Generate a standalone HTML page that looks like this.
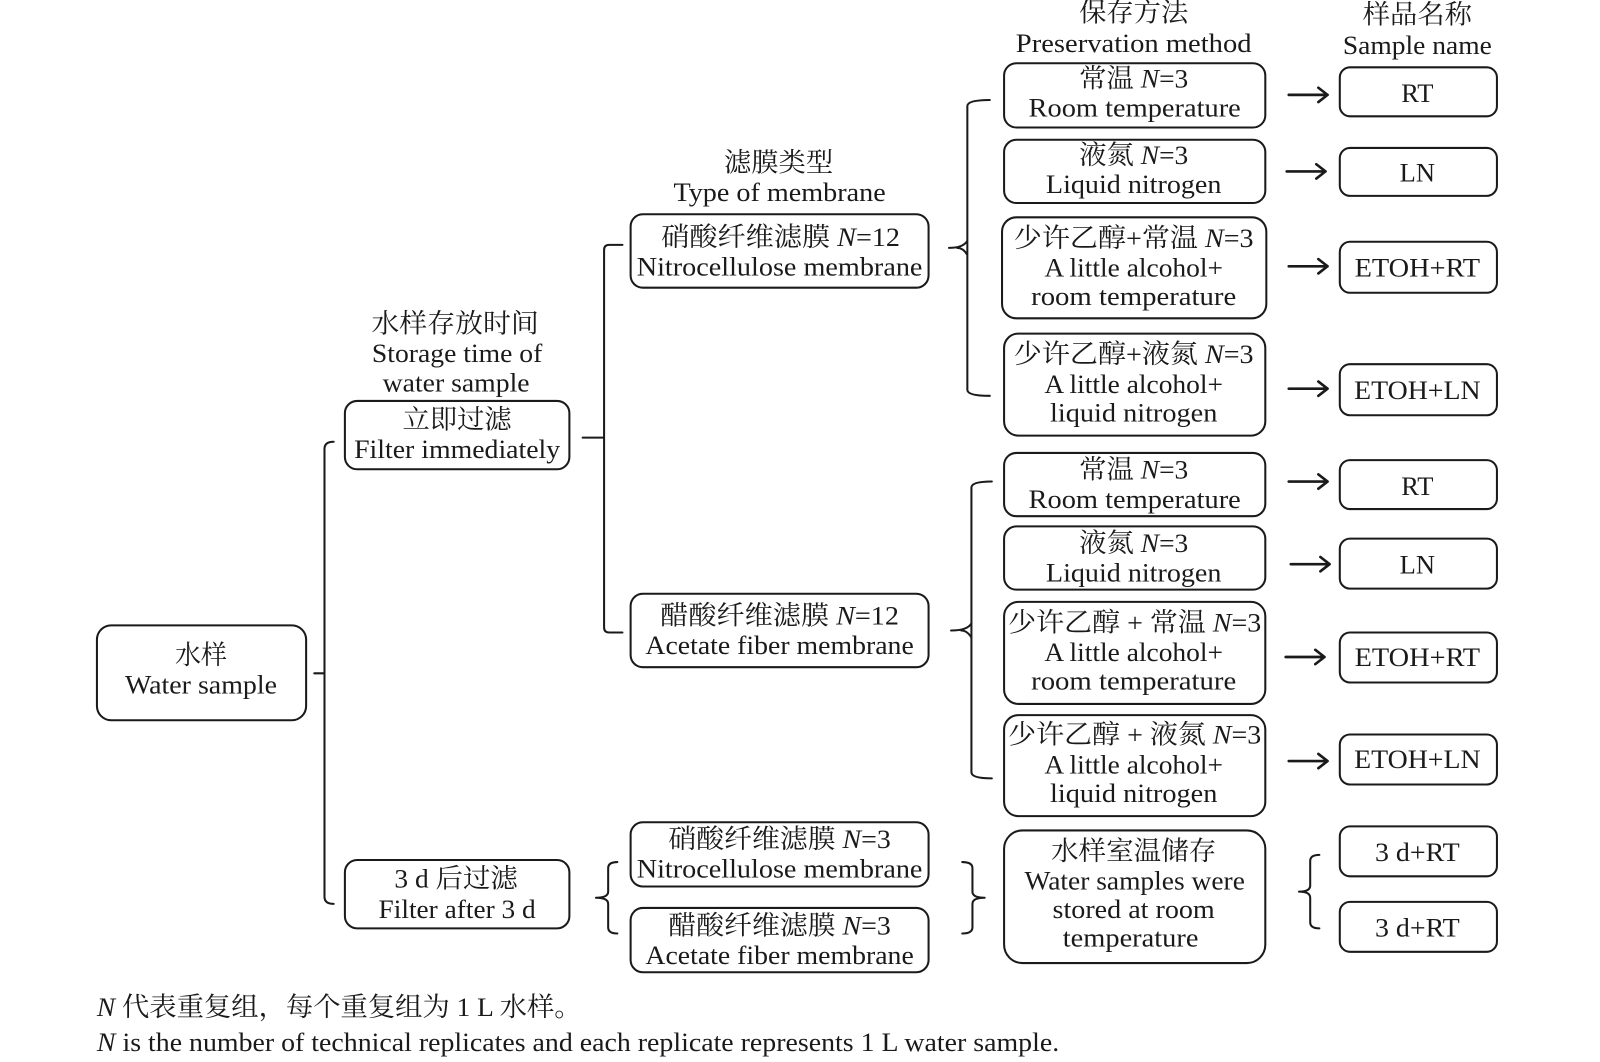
<!DOCTYPE html>
<html><head><meta charset="utf-8">
<style>
html,body{margin:0;padding:0;background:#fff;}
svg{display:block;}
text{font-family:"Liberation Serif","Noto Serif CJK SC",serif;fill:#1a1a1a;font-size:26px;}
.b{fill:none;stroke:#1a1a1a;stroke-width:2;}
.l{fill:none;stroke:#1a1a1a;stroke-width:2;stroke-linecap:round;stroke-linejoin:round;}
.a{fill:none;stroke:#1a1a1a;stroke-width:2.6;stroke-linecap:round;stroke-linejoin:round;}
</style></head>
<body>
<svg width="1600" height="1062" viewBox="0 0 1568 1041" preserveAspectRatio="none" xmlns="http://www.w3.org/2000/svg">
<rect width="1568" height="1041" fill="#fff"/>

<!-- Boxes -->
<rect class="b" x="95" y="613" width="205" height="93" rx="14"/>
<rect class="b" x="338" y="393" width="220" height="67" rx="12"/>
<rect class="b" x="338" y="843" width="220" height="67" rx="12"/>
<rect class="b" x="618" y="210" width="292" height="72" rx="12"/>
<rect class="b" x="618" y="582" width="292" height="72" rx="12"/>
<rect class="b" x="618" y="806" width="292" height="63" rx="12"/>
<rect class="b" x="618" y="890" width="292" height="63" rx="12"/>

<rect class="b" x="984" y="62" width="256" height="63" rx="12"/>
<rect class="b" x="984" y="137" width="256" height="62" rx="12"/>
<rect class="b" x="982" y="213" width="259" height="99" rx="14"/>
<rect class="b" x="984" y="327" width="256" height="100" rx="14"/>
<rect class="b" x="984" y="444" width="256" height="62" rx="12"/>
<rect class="b" x="984" y="516" width="256" height="62" rx="12"/>
<rect class="b" x="984" y="590" width="256" height="100" rx="14"/>
<rect class="b" x="984" y="701" width="256" height="99" rx="14"/>
<rect class="b" x="984" y="814" width="256" height="130" rx="18"/>

<rect class="b" x="1313" y="66" width="154" height="48" rx="10"/>
<rect class="b" x="1313" y="145" width="154" height="47" rx="10"/>
<rect class="b" x="1313" y="237" width="154" height="50" rx="10"/>
<rect class="b" x="1313" y="357" width="154" height="50" rx="10"/>
<rect class="b" x="1313" y="451" width="154" height="48" rx="10"/>
<rect class="b" x="1313" y="528" width="154" height="49" rx="10"/>
<rect class="b" x="1313" y="620" width="154" height="49" rx="10"/>
<rect class="b" x="1313" y="720" width="154" height="49" rx="10"/>
<rect class="b" x="1313" y="810" width="154" height="49" rx="10"/>
<rect class="b" x="1313" y="884" width="154" height="49" rx="10"/>

<!-- Brackets -->
<path class="l" d="M327,433 Q318,433 318,440 V879 Q318,886 327,886 M308,660 H318"/>
<path class="l" d="M571,429 H592 M610,240 H597 Q592,240 592,245 V615 Q592,620 597,620 H610"/>
<path class="l" d="M970,98 Q948,98 948,104 V382 Q948,388 970,388 M930,243 Q944,243 948,236 M948,250 Q944,243 938,243"/>
<path class="l" d="M972,472 Q952,472 952,478 V757 Q952,763 972,763 M932,618 Q948,618 952,611 M952,625 Q948,618 942,618"/>
<path class="l" d="M605,845 Q596,845 596,851 V874 Q596,880 584,880 Q596,880 596,886 V909 Q596,915 605,915"/>
<path class="l" d="M943,845 Q953,845 953,851 V874 Q953,880 965,880 Q953,880 953,886 V909 Q953,915 943,915"/>
<path class="l" d="M1293,838 Q1284,838 1284,844 V868 Q1284,874 1273,874 Q1284,874 1284,880 V904 Q1284,910 1293,910"/>

<!-- Arrows -->
<g class="a">
<path d="M1263,93 H1301 M1292,86 L1301,93 L1292,100"/>
<path d="M1261,168 H1299 M1290,161 L1299,168 L1290,175"/>
<path d="M1263,261 H1301 M1292,254 L1301,261 L1292,268"/>
<path d="M1263,381 H1301 M1292,374 L1301,381 L1292,388"/>
<path d="M1263,472 H1301 M1292,465 L1301,472 L1292,479"/>
<path d="M1265,553 H1303 M1294,546 L1303,553 L1294,560"/>
<path d="M1260,644 H1298 M1289,637 L1298,644 L1289,651"/>
<path d="M1263,746 H1301 M1292,739 L1301,746 L1292,753"/>
</g>

<!-- Texts -->
<g text-anchor="middle">
<text x="197" y="651" textLength="51" lengthAdjust="spacingAndGlyphs">水样</text>
<text x="197" y="680" textLength="149" lengthAdjust="spacingAndGlyphs">Water sample</text>

<text x="446" y="326" textLength="164" lengthAdjust="spacingAndGlyphs">水样存放时间</text>
<text x="448" y="355" textLength="167" lengthAdjust="spacingAndGlyphs">Storage time of</text>
<text x="447" y="384" textLength="144" lengthAdjust="spacingAndGlyphs">water sample</text>
<text x="448" y="420" textLength="107" lengthAdjust="spacingAndGlyphs">立即过滤</text>
<text x="448" y="449" textLength="202" lengthAdjust="spacingAndGlyphs">Filter immediately</text>

<text x="447" y="870" textLength="121" lengthAdjust="spacingAndGlyphs">3 d 后过滤</text>
<text x="448" y="900" textLength="154" lengthAdjust="spacingAndGlyphs">Filter after 3 d</text>

<text x="763" y="168" textLength="107" lengthAdjust="spacingAndGlyphs">滤膜类型</text>
<text x="764" y="197" textLength="208" lengthAdjust="spacingAndGlyphs">Type of membrane</text>
<text x="765" y="241" textLength="234" lengthAdjust="spacingAndGlyphs">硝酸纤维滤膜 <tspan font-style="italic">N</tspan>=12</text>
<text x="764" y="270" textLength="280" lengthAdjust="spacingAndGlyphs">Nitrocellulose membrane</text>
<text x="764" y="612" textLength="234" lengthAdjust="spacingAndGlyphs">醋酸纤维滤膜 <tspan font-style="italic">N</tspan>=12</text>
<text x="764" y="641" textLength="263" lengthAdjust="spacingAndGlyphs">Acetate fiber membrane</text>
<text x="764" y="831" textLength="218" lengthAdjust="spacingAndGlyphs">硝酸纤维滤膜 <tspan font-style="italic">N</tspan>=3</text>
<text x="764" y="860" textLength="280" lengthAdjust="spacingAndGlyphs">Nitrocellulose membrane</text>
<text x="764" y="916" textLength="218" lengthAdjust="spacingAndGlyphs">醋酸纤维滤膜 <tspan font-style="italic">N</tspan>=3</text>
<text x="764" y="945" textLength="263" lengthAdjust="spacingAndGlyphs">Acetate fiber membrane</text>

<text x="1111" y="21" textLength="107" lengthAdjust="spacingAndGlyphs">保存方法</text>
<text x="1111" y="51" textLength="231" lengthAdjust="spacingAndGlyphs">Preservation method</text>
<text x="1389" y="23" textLength="107" lengthAdjust="spacingAndGlyphs">样品名称</text>
<text x="1389" y="53" textLength="146" lengthAdjust="spacingAndGlyphs">Sample name</text>

<text x="1111" y="86" textLength="107" lengthAdjust="spacingAndGlyphs">常温 <tspan font-style="italic">N</tspan>=3</text>
<text x="1112" y="114" textLength="208" lengthAdjust="spacingAndGlyphs">Room temperature</text>
<text x="1111" y="161" textLength="107" lengthAdjust="spacingAndGlyphs">液氮 <tspan font-style="italic">N</tspan>=3</text>
<text x="1111" y="189" textLength="172" lengthAdjust="spacingAndGlyphs">Liquid nitrogen</text>
<text x="1111" y="242" textLength="235" lengthAdjust="spacingAndGlyphs">少许乙醇+常温 <tspan font-style="italic">N</tspan>=3</text>
<text x="1111" y="271" textLength="175" lengthAdjust="spacingAndGlyphs">A little alcohol+</text>
<text x="1111" y="299" textLength="201" lengthAdjust="spacingAndGlyphs">room temperature</text>
<text x="1111" y="356" textLength="235" lengthAdjust="spacingAndGlyphs">少许乙醇+液氮 <tspan font-style="italic">N</tspan>=3</text>
<text x="1111" y="385" textLength="175" lengthAdjust="spacingAndGlyphs">A little alcohol+</text>
<text x="1111" y="413" textLength="164" lengthAdjust="spacingAndGlyphs">liquid nitrogen</text>

<text x="1111" y="469" textLength="107" lengthAdjust="spacingAndGlyphs">常温 <tspan font-style="italic">N</tspan>=3</text>
<text x="1112" y="498" textLength="208" lengthAdjust="spacingAndGlyphs">Room temperature</text>
<text x="1111" y="541" textLength="107" lengthAdjust="spacingAndGlyphs">液氮 <tspan font-style="italic">N</tspan>=3</text>
<text x="1111" y="570" textLength="172" lengthAdjust="spacingAndGlyphs">Liquid nitrogen</text>
<text x="1112" y="619" textLength="248" lengthAdjust="spacingAndGlyphs">少许乙醇 + 常温 <tspan font-style="italic">N</tspan>=3</text>
<text x="1111" y="648" textLength="175" lengthAdjust="spacingAndGlyphs">A little alcohol+</text>
<text x="1111" y="676" textLength="201" lengthAdjust="spacingAndGlyphs">room temperature</text>
<text x="1112" y="729" textLength="248" lengthAdjust="spacingAndGlyphs">少许乙醇 + 液氮 <tspan font-style="italic">N</tspan>=3</text>
<text x="1111" y="758" textLength="175" lengthAdjust="spacingAndGlyphs">A little alcohol+</text>
<text x="1111" y="786" textLength="164" lengthAdjust="spacingAndGlyphs">liquid nitrogen</text>

<text x="1111" y="843" textLength="162" lengthAdjust="spacingAndGlyphs">水样室温储存</text>
<text x="1112" y="872" textLength="216" lengthAdjust="spacingAndGlyphs">Water samples were</text>
<text x="1111" y="900" textLength="159" lengthAdjust="spacingAndGlyphs">stored at room</text>
<text x="1108" y="928" textLength="133" lengthAdjust="spacingAndGlyphs">temperature</text>

<text x="1389" y="100">RT</text>
<text x="1389" y="178">LN</text>
<text x="1389" y="271" textLength="123" lengthAdjust="spacingAndGlyphs">ETOH+RT</text>
<text x="1389" y="391" textLength="124" lengthAdjust="spacingAndGlyphs">ETOH+LN</text>
<text x="1389" y="485">RT</text>
<text x="1389" y="562">LN</text>
<text x="1389" y="653" textLength="123" lengthAdjust="spacingAndGlyphs">ETOH+RT</text>
<text x="1389" y="753" textLength="124" lengthAdjust="spacingAndGlyphs">ETOH+LN</text>
<text x="1389" y="844" textLength="83" lengthAdjust="spacingAndGlyphs">3 d+RT</text>
<text x="1389" y="918" textLength="83" lengthAdjust="spacingAndGlyphs">3 d+RT</text>
</g>

<text x="95" y="996" textLength="475" lengthAdjust="spacingAndGlyphs"><tspan font-style="italic">N</tspan> 代表重复组，每个重复组为 1 L 水样。</text>
<text x="95" y="1030" textLength="943" lengthAdjust="spacingAndGlyphs"><tspan font-style="italic">N</tspan> is the number of technical replicates and each replicate represents 1 L water sample.</text>
</svg>
</body></html>
